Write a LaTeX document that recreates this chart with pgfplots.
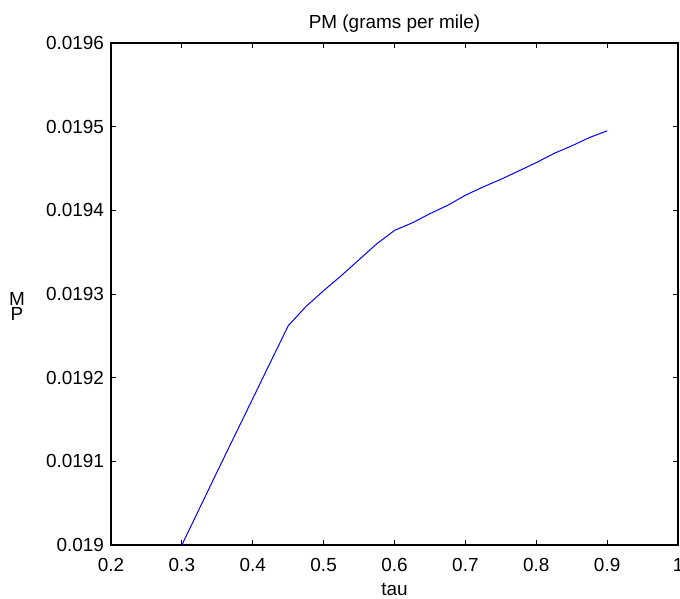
\documentclass[border=0pt]{standalone}
\usepackage{fontspec}
\setmainfont{Liberation Sans}
\usepackage{pgfplots}
\pgfplotsset{compat=1.18}

\begin{document}
\begin{tikzpicture}
\begin{axis}[
  name=ax,
  scale only axis,
  width=283.5bp, height=251bp,
  xmin=0.2, xmax=1, ymin=0.019, ymax=0.0196,
  xtick={0.2,0.3,...,1.0}, xticklabels={0.2,0.3,0.4,0.5,0.6,0.7,0.8,0.9,1},
  ytick={0.019,0.0191,0.0192,0.0193,0.0194,0.0195,0.0196},
  yticklabels={0.019,0.0191,0.0192,0.0193,0.0194,0.0195,0.0196},
  scaled y ticks=false,
  tick align=inside, tick pos=both,
  major tick length=2.5bp,
  every tick/.style={black, line width=0.4bp},
  axis line style={line width=0.7bp},
  tick label style={font=\fontsize{9.5}{11}\selectfont},
  xticklabel style={yshift=-3bp},
  title={PM (grams per mile)},
  title style={font=\fontsize{9.5}{11}\selectfont, at={(axis description cs:0.5,1)}, anchor=base, yshift=1.5bp},
  xlabel={tau},
  xlabel style={font=\fontsize{9.5}{11}\selectfont, at={(axis description cs:0.5,0)}, anchor=base, yshift=-25.5bp},
  ylabel={\shortstack{M\\[-2pt]P}},
  ylabel style={font=\fontsize{9.5}{11}\selectfont, rotate=-90, at={(axis description cs:0,0.476)}, anchor=center, xshift=-47bp},
]
\addplot[blue, line width=0.5bp] coordinates {
  (0.30,0.019000) (0.35,0.019088) (0.40,0.019175) (0.45,0.019262)
  (0.475,0.019285) (0.50,0.019304) (0.525,0.019322) (0.55,0.019341)
  (0.575,0.019360) (0.60,0.019376) (0.625,0.019385) (0.65,0.019396)
  (0.675,0.019406) (0.70,0.019418) (0.725,0.019428) (0.75,0.019437)
  (0.775,0.019447) (0.80,0.019457) (0.825,0.019468) (0.85,0.019477)
  (0.875,0.019487) (0.90,0.019495)
};
\end{axis}
\pgfresetboundingbox
\useasboundingbox ([shift={(-55.5bp,-27bp)}]ax.south west) rectangle ([shift={(1bp,21.5bp)}]ax.north east);
\end{tikzpicture}
\end{document}
